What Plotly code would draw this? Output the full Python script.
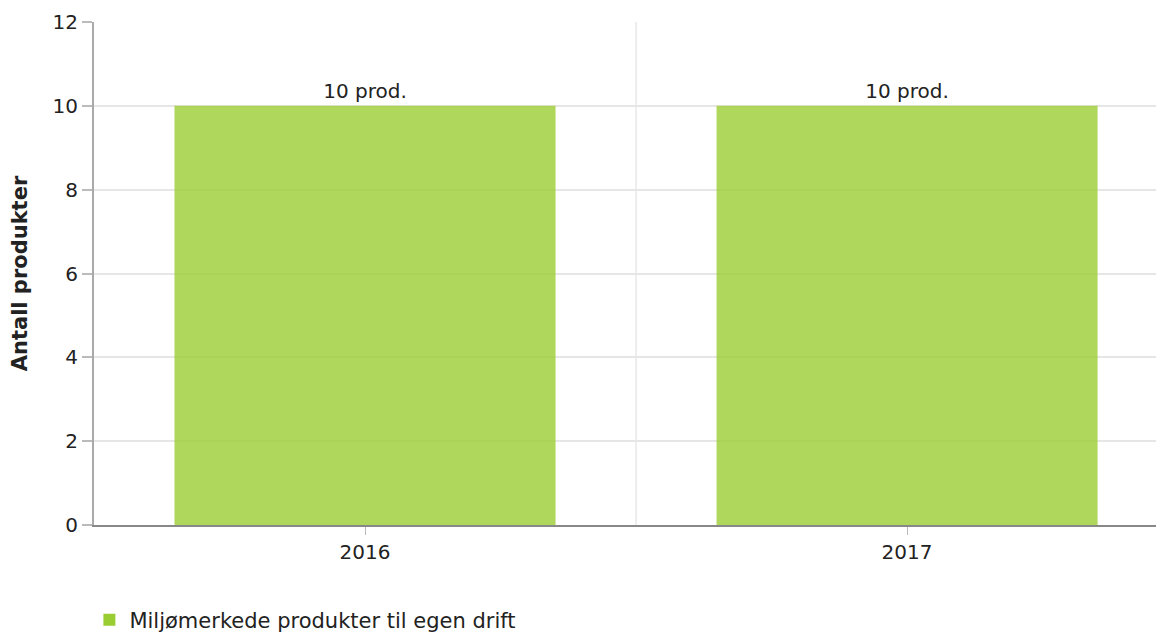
import plotly.graph_objects as go

years = ["2016", "2017"]
products = [10, 10]
series_name = "Miljømerkede produkter til egen drift"
y_title = "Antall produkter"

green = "rgb(154, 205, 50)"
font = "Verdana, DejaVu Sans, sans-serif"

fig = go.Figure()
fig.add_trace(go.Bar(
    x=years, y=products, name=series_name,
    marker=dict(color=green, opacity=0.8, line=dict(width=0)),
    texttemplate="%{y} prod.", textposition="outside",
    textfont=dict(size=20, color="#222222"),
    cliponaxis=False,
))

# divider between the two categories
fig.add_vline(x=0.5, line=dict(color="#dddddd", width=1), layer="below")

# page body adds an 8px offset, so the figure is 8px smaller than the window
fig.update_layout(
    width=1156, height=624,
    template="plotly_white",
    font=dict(family=font, size=20, color="#222222"),
    margin=dict(l=86, r=0, t=14, b=107, autoexpand=False),
    bargap=0.297,
    showlegend=True,
    legend=dict(orientation="h", x=-0.0043, xanchor="left", y=-0.189, yanchor="middle",
                font=dict(size=21, color="#222222")),
    plot_bgcolor="white",
)
fig.update_xaxes(
    type="category", range=[-0.5, 1.474], automargin=False,
    showgrid=False, showline=True, linecolor="#888888", linewidth=2,
    ticks="outside", ticklen=8, tickcolor="#bbbbbb", tickwidth=1,
    tickfont=dict(size=20), zeroline=False,
)
fig.update_yaxes(
    range=[0, 12], dtick=2, automargin=False,
    showgrid=True, gridcolor="#e6e6e6", gridwidth=2,
    showline=True, linecolor="#aaaaaa", linewidth=2,
    ticks="outside", ticklen=10, tickcolor="#bbbbbb", tickwidth=2,
    tickfont=dict(size=20), zeroline=False,
    title=dict(text="<b>" + y_title + "</b>", font=dict(size=21), standoff=30),
)

fig.write_html("out.html")
